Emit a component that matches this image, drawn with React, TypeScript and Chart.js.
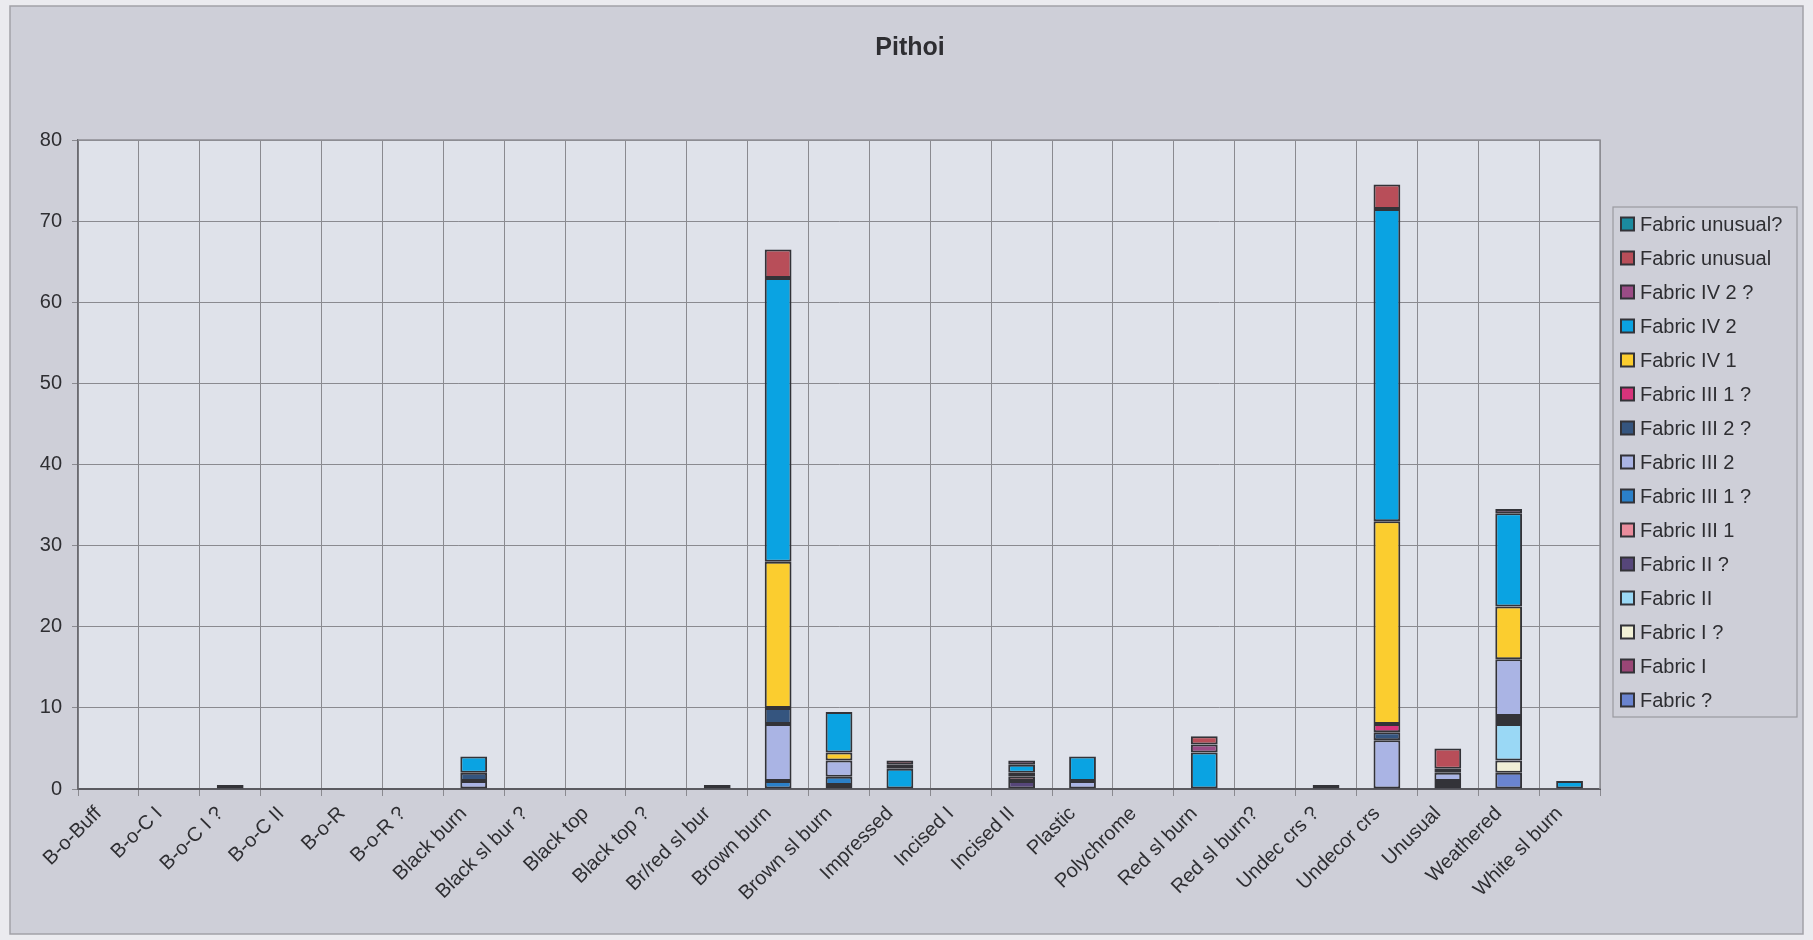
import { useEffect, useRef } from "react";
import { Chart, registerables } from "chart.js";

Chart.register(...registerables);

const chartTitle = "Pithoi";

const categories = [
  "B-o-Buff", "B-o-C I", "B-o-C I ?", "B-o-C II", "B-o-R", "B-o-R ?",
  "Black burn", "Black sl bur ?", "Black top", "Black top ?", "Br/red sl bur",
  "Brown burn", "Brown sl burn", "Impressed", "Incised I", "Incised II",
  "Plastic", "Polychrome", "Red sl burn", "Red sl burn?", "Undec crs ?",
  "Undecor crs", "Unusual", "Weathered", "White sl burn",
];

const yMin = 0;
const yMax = 80;
const yStep = 10;

// Stack order, bottom to top (one value per category)
//                        BB  BCI BCI? BCII BR BR? Bb  Bsb? Bt  Bt? Brr  Brb  Bsb  Imp Inc1 Inc2 Pla Pol Rsb Rsb? Uc? Ucr  Unu  Wea  Wsb
const fabricQ =          [0,  0,  0,   0,   0, 0,  0,  0,   0,  0,  0,   0,   0,   0,  0,   0,   0,  0,  0,  0,   0,  0,   0,   2,   0];
const fabricI =          [0,  0,  0.5, 0,   0, 0,  0,  0,   0,  0,  0,   0,   0,   0,  0,   0,   0,  0,  0,  0,   0,  0,   0,   0,   0];
const fabricIQ =         [0,  0,  0,   0,   0, 0,  0,  0,   0,  0,  0,   0,   0,   0,  0,   0,   0,  0,  0,  0,   0,  0,   0.5, 1.5, 0];
const fabricII =         [0,  0,  0,   0,   0, 0,  0,  0,   0,  0,  0,   0,   0,   0,  0,   0,   0,  0,  0,  0,   0,  0,   0,   4.5, 0];
const fabricIIQ =        [0,  0,  0,   0,   0, 0,  0,  0,   0,  0,  0,   0,   0.5, 0,  0,   1,   0,  0,  0,  0,   0,  0,   0.5, 0.5, 0];
const fabricIII1 =       [0,  0,  0,   0,   0, 0,  0,  0,   0,  0,  0,   0,   0,   0,  0,   0.5, 0,  0,  0,  0,   0,  0,   0,   0,   0];
const fabricIII1Q =      [0,  0,  0,   0,   0, 0,  0,  0,   0,  0,  0,   1,   1,   0,  0,   0,   0,  0,  0,  0,   0,  0,   0,   0.5, 0];
const fabricIII2 =       [0,  0,  0,   0,   0, 0,  1,  0,   0,  0,  0.5, 7,   2,   0,  0,   0,   1,  0,  0,  0,   0,  6,   1,   7,   0];
const fabricIII2Q =      [0,  0,  0,   0,   0, 0,  1,  0,   0,  0,  0,   2,   0,   0,  0,   0.5, 0,  0,  0,  0,   0,  1,   0.5, 0,   0];
const fabricIII1QAlt =   [0,  0,  0,   0,   0, 0,  0,  0,   0,  0,  0,   0,   0,   0,  0,   0,   0,  0,  0,  0,   0,  1,   0,   0,   0];
const fabricIV1 =        [0,  0,  0,   0,   0, 0,  0,  0,   0,  0,  0,   18,  1,   0,  0,   0,   0,  0,  0,  0,   0,  25,  0,   6.5, 0];
const fabricIV2 =        [0,  0,  0,   0,   0, 0,  2,  0,   0,  0,  0,   35,  5,   2.5, 0,  1,   3,  0,  4.5, 0,  0,  38.5, 0,  11.5, 1];
const fabricIV2Q =       [0,  0,  0,   0,   0, 0,  0,  0,   0,  0,  0,   0,   0,   0.5, 0,  0.5, 0,  0,  1,  0,   0,  0,   0,   0.5, 0];
const fabricUnusual =    [0,  0,  0,   0,   0, 0,  0,  0,   0,  0,  0,   3.5, 0,   0.5, 0,  0,   0,  0,  1,  0,   0.5, 3,  2.5, 0,   0];
const fabricUnusualQ =   [0,  0,  0,   0,   0, 0,  0,  0,   0,  0,  0,   0,   0,   0,  0,   0,   0,  0,  0,  0,   0,  0,   0,   0,   0];

const seriesLabels = [
  "Fabric ?", "Fabric I", "Fabric I ?", "Fabric II", "Fabric II ?",
  "Fabric III 1", "Fabric III 1 ?", "Fabric III 2", "Fabric III 2 ?", "Fabric III 1 ?",
  "Fabric IV 1", "Fabric IV 2", "Fabric IV 2 ?", "Fabric unusual", "Fabric unusual?",
];
const seriesValues = [
  fabricQ, fabricI, fabricIQ, fabricII, fabricIIQ,
  fabricIII1, fabricIII1Q, fabricIII2, fabricIII2Q, fabricIII1QAlt,
  fabricIV1, fabricIV2, fabricIV2Q, fabricUnusual, fabricUnusualQ,
];
const seriesColors = [
  "#6a84d0", "#9a4676", "#f1f0d6", "#9ad8f5", "#56467a",
  "#e98c9c", "#2b80c8", "#aab4e4", "#35557f", "#d8337b",
  "#fbcd2f", "#0aa3e2", "#9b4c86", "#b84e59", "#1b8b9f",
];

const FONT = "'Liberation Sans', Arial, sans-serif";
const TEXT = "#2e2e32";

const frame = { left: 10, top: 6, right: 1803, bottom: 934 };
const legendBox = { left: 1613, top: 207, right: 1797, bottom: 717 };

const decorPlugin = {
  id: "decor",
  beforeDraw(chart: any) {
    const { ctx, chartArea: a } = chart;
    ctx.save();
    ctx.fillStyle = "#ebebef";
    ctx.fillRect(0, 0, chart.width, chart.height);
    ctx.fillStyle = "#cecfd8";
    ctx.fillRect(frame.left, frame.top, frame.right - frame.left, frame.bottom - frame.top);
    ctx.strokeStyle = "#a2a2a8";
    ctx.lineWidth = 1.5;
    ctx.strokeRect(frame.left, frame.top, frame.right - frame.left, frame.bottom - frame.top);
    ctx.fillStyle = "#dfe2ea";
    ctx.fillRect(a.left, a.top, a.right - a.left, a.bottom - a.top);
    ctx.restore();
  },
  afterDraw(chart: any) {
    const { ctx, chartArea: a } = chart;
    ctx.save();
    // plot border
    ctx.strokeStyle = "#8e8e94";
    ctx.lineWidth = 1.5;
    ctx.beginPath();
    ctx.moveTo(a.left, a.top);
    ctx.lineTo(a.right, a.top);
    ctx.lineTo(a.right, a.bottom);
    ctx.stroke();

    // title
    ctx.fillStyle = TEXT;
    ctx.font = `bold 25px ${FONT}`;
    ctx.textAlign = "center";
    ctx.textBaseline = "middle";
    ctx.fillText(chartTitle, 910, 48);

    // legend
    ctx.strokeStyle = "#9a9aa0";
    ctx.lineWidth = 1.2;
    ctx.strokeRect(legendBox.left, legendBox.top, legendBox.right - legendBox.left, legendBox.bottom - legendBox.top);
    ctx.font = `20px ${FONT}`;
    ctx.textAlign = "left";
    const n = seriesLabels.length;
    const rowH = (legendBox.bottom - legendBox.top) / n;
    for (let k = 0; k < n; k++) {
      const i = n - 1 - k;
      const cy = legendBox.top + rowH * (k + 0.5);
      ctx.fillStyle = seriesColors[i];
      ctx.fillRect(1621, cy - 6.5, 13, 13);
      ctx.strokeStyle = "#333338";
      ctx.lineWidth = 2;
      ctx.strokeRect(1621, cy - 6.5, 13, 13);
      ctx.fillStyle = TEXT;
      ctx.fillText(seriesLabels[i], 1640, cy + 1);
    }
    ctx.restore();
  },
};

export default function App() {
  const canvasRef = useRef<HTMLCanvasElement | null>(null);

  useEffect(() => {
    document.body.style.margin = "0";
    const canvas = canvasRef.current;
    if (!canvas) return;
    const chart = new Chart(canvas, {
      type: "bar",
      data: {
        labels: categories,
        datasets: seriesValues.map((vals, i) => ({
          label: seriesLabels[i],
          data: vals.map((v) => (v ? v : null)),
          backgroundColor: seriesColors[i],
          borderColor: "#333338",
          borderWidth: 2,
          borderSkipped: false,
          barPercentage: 0.44,
          categoryPercentage: 1,
          stack: "all",
        })),
      },
      options: {
        responsive: false,
        animation: false,
        layout: { padding: { left: 0, top: 140, right: 213, bottom: 0 } },
        plugins: {
          legend: { display: false },
          tooltip: { enabled: false },
          title: { display: false },
        },
        scales: {
          x: {
            stacked: true,
            grid: { offset: true, color: "#8a8a90", lineWidth: 1, tickLength: 7 },
            border: { display: true, color: "#5a5a60", width: 2 },
            ticks: {
              autoSkip: false,
              maxRotation: 45,
              minRotation: 45,
              padding: 6,
              labelOffset: -10,
              color: TEXT,
              font: { family: FONT, size: 20 },
            },
            afterFit: (s: any) => { s.height = 151; },
          },
          y: {
            stacked: true,
            min: yMin,
            max: yMax,
            ticks: {
              stepSize: yStep,
              padding: 10,
              color: TEXT,
              font: { family: FONT, size: 20 },
            },
            grid: { color: "#8a8a90", lineWidth: 1, tickLength: 6 },
            border: { display: true, color: "#6a6a70", width: 1.5 },
            afterFit: (s: any) => { s.width = 78; },
          },
        },
      },
      plugins: [decorPlugin],
    });
    return () => chart.destroy();
  }, []);

  return (
    <div style={{ width: 1813, height: 940 }}>
      <canvas ref={canvasRef} width={1813} height={940} style={{ display: "block" }} />
    </div>
  );
}
